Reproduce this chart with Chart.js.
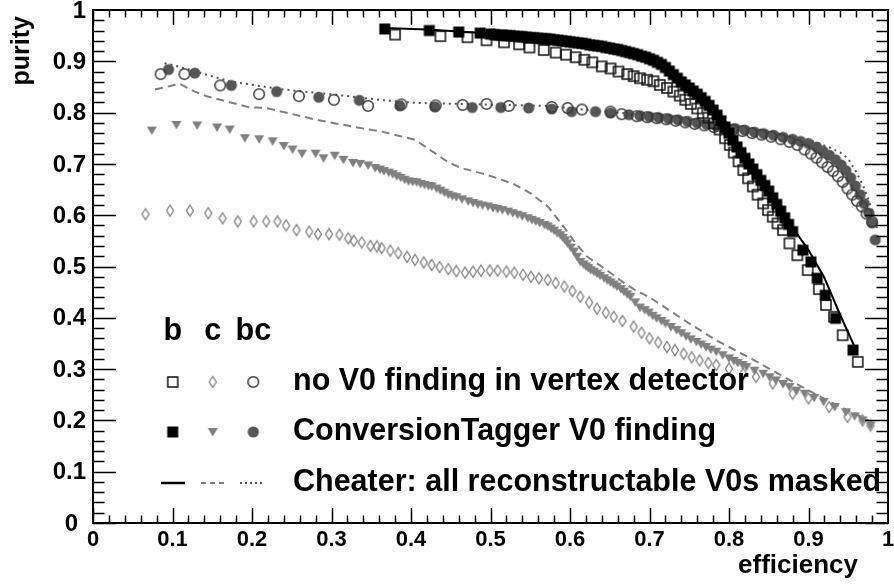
<!DOCTYPE html>
<html>
<head>
<meta charset="utf-8">
<script src="https://cdn.jsdelivr.net/npm/chart.js@4.4.1/dist/chart.umd.min.js"></script>
<style>
  html, body { margin: 0; padding: 0; background: #fff; }
  canvas { display: block; }
</style>
</head>
<body>
<canvas id="chart" width="894" height="584"></canvas>
<script>
'use strict';

// axis ticks
const tickValues = [0, 0.1, 0.2, 0.3, 0.4, 0.5, 0.6, 0.7, 0.8, 0.9, 1];
const xTickLabels = ['0', '0.1', '0.2', '0.3', '0.4', '0.5', '0.6', '0.7', '0.8', '0.9', '1'];
const yTickLabels = ['0', '0.1', '0.2', '0.3', '0.4', '0.5', '0.6', '0.7', '0.8', '0.9', '1'];
const minorPerMajor = 5;

const xTitle = 'efficiency';
const yTitle = 'purity';
const legendHeader = ['b', 'c', 'bc'];
const legendRows = ['no V0 finding in vertex detector', 'ConversionTagger V0 finding', 'Cheater: all reconstructable V0s masked'];

// [efficiency, purity]
const bNoV0 = [[0.380,0.952],[0.437,0.949],[0.471,0.947],[0.495,0.941],[0.517,0.937],[0.536,0.933],[0.549,0.927],[0.567,0.922],[0.582,0.917],[0.595,0.913],[0.607,0.908],[0.618,0.903],[0.628,0.898],[0.640,0.890],[0.651,0.886],[0.661,0.880],[0.672,0.875],[0.680,0.871],[0.688,0.867],[0.697,0.864],[0.705,0.861],[0.713,0.854],[0.722,0.848],[0.730,0.841],[0.738,0.833],[0.745,0.825],[0.752,0.817],[0.760,0.808],[0.767,0.799],[0.774,0.790],[0.781,0.779],[0.788,0.767],[0.795,0.750],[0.801,0.737],[0.806,0.722],[0.812,0.705],[0.818,0.688],[0.824,0.672],[0.830,0.656],[0.836,0.640],[0.843,0.623],[0.849,0.610],[0.855,0.597],[0.861,0.584],[0.868,0.571],[0.876,0.545],[0.886,0.522],[0.899,0.493],[0.913,0.456],[0.922,0.425],[0.932,0.402],[0.943,0.366],[0.962,0.314]];
const bTagger = [[0.367,0.963],[0.423,0.960],[0.460,0.957],[0.487,0.955],[0.500,0.953],[0.505,0.952],[0.510,0.951],[0.515,0.951],[0.520,0.950],[0.525,0.950],[0.530,0.949],[0.535,0.948],[0.540,0.948],[0.545,0.947],[0.550,0.946],[0.555,0.946],[0.560,0.945],[0.565,0.944],[0.570,0.944],[0.575,0.943],[0.580,0.942],[0.585,0.941],[0.590,0.940],[0.595,0.939],[0.600,0.938],[0.605,0.937],[0.610,0.936],[0.615,0.935],[0.620,0.934],[0.625,0.932],[0.630,0.931],[0.635,0.930],[0.640,0.929],[0.645,0.927],[0.650,0.926],[0.655,0.924],[0.660,0.923],[0.665,0.921],[0.670,0.919],[0.675,0.917],[0.680,0.915],[0.685,0.913],[0.690,0.910],[0.695,0.908],[0.700,0.905],[0.705,0.902],[0.710,0.898],[0.715,0.894],[0.720,0.888],[0.725,0.881],[0.730,0.874],[0.735,0.867],[0.740,0.860],[0.745,0.854],[0.750,0.848],[0.755,0.842],[0.760,0.836],[0.765,0.829],[0.770,0.822],[0.775,0.814],[0.780,0.805],[0.785,0.795],[0.790,0.784],[0.795,0.772],[0.800,0.760],[0.805,0.746],[0.810,0.733],[0.815,0.722],[0.820,0.711],[0.825,0.700],[0.830,0.690],[0.835,0.679],[0.840,0.668],[0.845,0.658],[0.850,0.647],[0.855,0.634],[0.860,0.621],[0.865,0.608],[0.870,0.595],[0.875,0.582],[0.880,0.568],[0.893,0.532],[0.903,0.509],[0.911,0.477],[0.921,0.444],[0.934,0.399],[0.956,0.337]];
const bCheater = [[0.367,0.965],[0.420,0.962],[0.460,0.958],[0.500,0.954],[0.550,0.948],[0.600,0.940],[0.650,0.928],[0.700,0.907],[0.720,0.892],[0.740,0.866],[0.760,0.840],[0.780,0.808],[0.800,0.764],[0.820,0.717],[0.840,0.674],[0.860,0.627],[0.880,0.576],[0.900,0.532],[0.920,0.478],[0.940,0.405],[0.957,0.347]];

const cNoV0 = [[0.066,0.602],[0.097,0.609],[0.122,0.609],[0.145,0.604],[0.163,0.594],[0.182,0.588],[0.202,0.588],[0.218,0.588],[0.232,0.588],[0.243,0.580],[0.256,0.571],[0.272,0.568],[0.283,0.563],[0.297,0.563],[0.310,0.562],[0.321,0.555],[0.328,0.550],[0.338,0.547],[0.349,0.540],[0.357,0.539],[0.363,0.536],[0.374,0.531],[0.384,0.526],[0.395,0.519],[0.405,0.513],[0.416,0.508],[0.426,0.503],[0.436,0.499],[0.447,0.495],[0.457,0.491],[0.468,0.488],[0.478,0.490],[0.488,0.492],[0.499,0.492],[0.509,0.492],[0.520,0.490],[0.530,0.488],[0.541,0.484],[0.551,0.480],[0.561,0.477],[0.572,0.474],[0.582,0.468],[0.593,0.461],[0.603,0.452],[0.613,0.441],[0.624,0.430],[0.634,0.418],[0.645,0.410],[0.655,0.402],[0.666,0.394],[0.680,0.383],[0.690,0.371],[0.700,0.360],[0.711,0.352],[0.722,0.343],[0.732,0.337],[0.743,0.330],[0.753,0.323],[0.763,0.317],[0.774,0.312],[0.784,0.308],[0.800,0.301],[0.818,0.291],[0.834,0.285],[0.855,0.272],[0.880,0.252],[0.900,0.243],[0.926,0.226],[0.949,0.207],[0.968,0.200],[0.978,0.190]];
const cTagger = [[0.074,0.765],[0.105,0.776],[0.131,0.775],[0.156,0.771],[0.172,0.767],[0.191,0.750],[0.209,0.748],[0.226,0.744],[0.240,0.735],[0.251,0.728],[0.263,0.720],[0.280,0.720],[0.290,0.711],[0.304,0.716],[0.315,0.708],[0.327,0.702],[0.336,0.700],[0.346,0.697],[0.355,0.692],[0.361,0.689],[0.366,0.686],[0.372,0.683],[0.377,0.680],[0.382,0.676],[0.387,0.673],[0.392,0.669],[0.397,0.666],[0.402,0.665],[0.407,0.664],[0.412,0.661],[0.417,0.659],[0.422,0.657],[0.426,0.656],[0.432,0.652],[0.437,0.648],[0.442,0.644],[0.447,0.640],[0.452,0.637],[0.457,0.635],[0.464,0.631],[0.472,0.627],[0.478,0.624],[0.484,0.621],[0.490,0.619],[0.497,0.617],[0.503,0.614],[0.509,0.612],[0.515,0.610],[0.522,0.607],[0.528,0.604],[0.534,0.601],[0.540,0.598],[0.547,0.594],[0.552,0.591],[0.557,0.588],[0.562,0.585],[0.568,0.581],[0.572,0.578],[0.576,0.574],[0.580,0.570],[0.584,0.565],[0.588,0.561],[0.591,0.556],[0.594,0.551],[0.597,0.545],[0.601,0.537],[0.605,0.529],[0.609,0.519],[0.613,0.509],[0.617,0.504],[0.620,0.500],[0.623,0.497],[0.626,0.493],[0.630,0.490],[0.634,0.486],[0.638,0.482],[0.643,0.477],[0.647,0.473],[0.651,0.469],[0.655,0.465],[0.659,0.461],[0.664,0.456],[0.668,0.451],[0.672,0.446],[0.676,0.441],[0.682,0.430],[0.688,0.420],[0.694,0.415],[0.699,0.410],[0.704,0.404],[0.709,0.399],[0.715,0.394],[0.720,0.389],[0.727,0.382],[0.734,0.376],[0.740,0.370],[0.746,0.364],[0.752,0.358],[0.759,0.353],[0.765,0.348],[0.771,0.343],[0.777,0.338],[0.784,0.334],[0.792,0.327],[0.800,0.321],[0.806,0.316],[0.811,0.312],[0.817,0.308],[0.822,0.304],[0.832,0.297],[0.843,0.291],[0.851,0.284],[0.859,0.278],[0.868,0.271],[0.876,0.265],[0.885,0.258],[0.895,0.252],[0.907,0.244],[0.919,0.236],[0.933,0.226],[0.947,0.216],[0.958,0.208],[0.968,0.200],[0.978,0.190]];
const cCheater = [[0.078,0.845],[0.109,0.856],[0.128,0.841],[0.143,0.832],[0.197,0.810],[0.218,0.809],[0.284,0.785],[0.347,0.767],[0.363,0.763],[0.405,0.747],[0.430,0.721],[0.447,0.703],[0.463,0.692],[0.488,0.682],[0.509,0.672],[0.530,0.660],[0.550,0.643],[0.572,0.617],[0.588,0.586],[0.605,0.550],[0.621,0.520],[0.647,0.492],[0.668,0.468],[0.680,0.456],[0.700,0.440],[0.743,0.396],[0.784,0.356],[0.826,0.322],[0.847,0.304],[0.876,0.279],[0.909,0.251],[0.943,0.224],[0.976,0.200]];

const bcNoV0 = [[0.085,0.875],[0.115,0.875],[0.160,0.853],[0.209,0.836],[0.259,0.832],[0.303,0.825],[0.346,0.813],[0.388,0.816],[0.431,0.814],[0.465,0.815],[0.495,0.817],[0.523,0.813],[0.577,0.811],[0.597,0.809],[0.615,0.806],[0.651,0.802],[0.665,0.797],[0.684,0.793],[0.697,0.791],[0.709,0.789],[0.721,0.787],[0.733,0.784],[0.745,0.781],[0.757,0.778],[0.769,0.775],[0.781,0.772],[0.793,0.770],[0.805,0.767],[0.817,0.764],[0.829,0.760],[0.841,0.757],[0.853,0.753],[0.865,0.748],[0.876,0.743],[0.886,0.737],[0.895,0.728],[0.903,0.720],[0.910,0.712],[0.917,0.703],[0.924,0.694],[0.931,0.686],[0.937,0.676],[0.943,0.665],[0.949,0.652],[0.955,0.640],[0.961,0.628],[0.967,0.617],[0.973,0.603],[0.980,0.587]];
const bcTagger = [[0.095,0.884],[0.128,0.877],[0.174,0.853],[0.231,0.841],[0.284,0.830],[0.335,0.824],[0.386,0.813],[0.430,0.811],[0.477,0.810],[0.513,0.810],[0.548,0.809],[0.577,0.807],[0.602,0.802],[0.632,0.802],[0.651,0.799],[0.674,0.796],[0.688,0.794],[0.700,0.792],[0.712,0.790],[0.724,0.788],[0.736,0.786],[0.748,0.783],[0.760,0.780],[0.772,0.777],[0.784,0.774],[0.796,0.772],[0.808,0.769],[0.820,0.766],[0.832,0.762],[0.844,0.759],[0.856,0.756],[0.868,0.752],[0.880,0.748],[0.890,0.744],[0.900,0.740],[0.910,0.733],[0.918,0.725],[0.926,0.717],[0.934,0.708],[0.941,0.698],[0.947,0.687],[0.953,0.673],[0.959,0.657],[0.965,0.640],[0.970,0.623],[0.976,0.604],[0.980,0.585],[0.984,0.552]];
const bcCheater = [[0.090,0.896],[0.100,0.893],[0.172,0.861],[0.234,0.846],[0.322,0.832],[0.359,0.825],[0.405,0.819],[0.572,0.813],[0.650,0.801],[0.700,0.795],[0.750,0.786],[0.800,0.776],[0.850,0.763],[0.900,0.747],[0.925,0.733],[0.940,0.722],[0.950,0.710],[0.960,0.684],[0.968,0.660],[0.975,0.632],[0.982,0.600],[0.986,0.575]];

const black = '#000000';
const grey = '#808080';
const dark = '#555555';
const font = '"Liberation Sans", Arial, Helvetica, sans-serif';

function marker(kind, color) {
  const c = document.createElement('canvas');
  c.width = 16; c.height = 16;
  const g = c.getContext('2d');
  const m = 8;
  g.strokeStyle = color;
  g.fillStyle = color;
  g.lineWidth = 1.5;
  g.beginPath();
  if (kind === 'openSquare') {
    g.strokeRect(m - 5, m - 5, 10, 10);
  } else if (kind === 'square') {
    g.fillRect(m - 5.5, m - 5.5, 11, 11);
  } else if (kind === 'diamond') {
    g.lineWidth = 1.3;
    g.moveTo(m, m - 5.5); g.lineTo(m + 3.5, m); g.lineTo(m, m + 5.5); g.lineTo(m - 3.5, m);
    g.closePath(); g.stroke();
  } else if (kind === 'triangle') {
    g.moveTo(m - 5, m - 4); g.lineTo(m + 5, m - 4); g.lineTo(m, m + 4.5);
    g.closePath(); g.fill();
  } else if (kind === 'openCircle') {
    g.arc(m, m, 5.3, 0, Math.PI * 2); g.stroke();
  } else if (kind === 'circle') {
    g.arc(m, m, 5.6, 0, Math.PI * 2); g.fill();
  }
  return c;
}

const mk = {
  bNoV0: marker('openSquare', '#111111'),
  bTagger: marker('square', black),
  cNoV0: marker('diamond', grey),
  cTagger: marker('triangle', grey),
  bcNoV0: marker('openCircle', '#3a3a3a'),
  bcTagger: marker('circle', dark)
};

function pts(a) {
  return a.map(p => ({x: p[0], y: p[1]}));
}

function markerSet(data, style) {
  return {data: pts(data), pointStyle: style, pointRadius: 5, showLine: false};
}

function lineSet(data, color, dash, width) {
  return {data: pts(data), showLine: true, pointRadius: 0, borderColor: color,
    borderWidth: width, borderDash: dash, tension: 0, fill: false};
}

const rootStyle = {
  id: 'rootStyle',
  afterDraw(chart) {
    const {ctx, chartArea: a, scales: {x, y}} = chart;
    ctx.save();
    // ticks, inward on all four sides
    ctx.strokeStyle = black;
    ctx.lineWidth = 1.5;
    ctx.beginPath();
    for (let i = 0; i < tickValues.length - 1; i++) {
      for (let k = 0; k < minorPerMajor; k++) {
        const v = tickValues[i] + (tickValues[i + 1] - tickValues[i]) * k / minorPerMajor;
        const major = k === 0;
        const px = Math.round(x.getPixelForValue(v)) + 0.5;
        const lx = major ? 15 : 7.5;
        ctx.moveTo(px, a.bottom); ctx.lineTo(px, a.bottom - lx);
        ctx.moveTo(px, a.top); ctx.lineTo(px, a.top + lx);
        const py = Math.round(y.getPixelForValue(v)) + 0.5;
        const ly = major ? 23 : 11.5;
        ctx.moveTo(a.left, py); ctx.lineTo(a.left + ly, py);
        ctx.moveTo(a.right, py); ctx.lineTo(a.right - ly, py);
      }
    }
    ctx.stroke();
    ctx.lineWidth = 2;
    ctx.strokeRect(a.left, a.top, a.right - a.left, a.bottom - a.top);

    // tick labels
    ctx.fillStyle = black;
    ctx.font = 'bold 22px ' + font;
    ctx.textAlign = 'center';
    ctx.textBaseline = 'middle';
    tickValues.forEach((v, i) => {
      ctx.fillText(xTickLabels[i], x.getPixelForValue(v), a.bottom + 17);
    });
    ctx.font = 'bold 24px ' + font;
    ctx.textAlign = 'right';
    tickValues.forEach((v, i) => {
      ctx.fillText(yTickLabels[i], a.left - (i === 0 ? 15 : 7), y.getPixelForValue(v) + 1);
    });

    // axis titles
    ctx.font = 'bold 26px ' + font;
    ctx.textAlign = 'right';
    ctx.fillText(xTitle, 858, 566);
    ctx.save();
    ctx.translate(22, 16);
    ctx.rotate(-Math.PI / 2);
    ctx.font = 'bold 25px ' + font;
    ctx.textAlign = 'right';
    ctx.fillText(yTitle, 0, 0);
    ctx.restore();

    // legend
    const cols = [172.7, 212.7, 253.3];
    const rowsY = [382, 432, 483];
    ctx.font = 'bold 30.5px ' + font;
    ctx.textAlign = 'center';
    legendHeader.forEach((t, i) => ctx.fillText(t, cols[i], 332));
    ctx.textAlign = 'left';
    legendRows.forEach((t, i) => ctx.fillText(t, 293, rowsY[i]));
    const row1 = [mk.bNoV0, mk.cNoV0, mk.bcNoV0];
    const row2 = [mk.bTagger, mk.cTagger, mk.bcTagger];
    row1.forEach((m, i) => ctx.drawImage(m, cols[i] - 8, rowsY[0] - 8));
    row2.forEach((m, i) => ctx.drawImage(m, cols[i] - 8, rowsY[1] - 8));
    const ly = rowsY[2];
    ctx.lineWidth = 2.5;
    ctx.strokeStyle = black;
    ctx.beginPath(); ctx.moveTo(161, ly); ctx.lineTo(185, ly); ctx.stroke();
    ctx.lineWidth = 2;
    ctx.strokeStyle = grey;
    ctx.setLineDash([5, 4]);
    ctx.beginPath(); ctx.moveTo(201, ly); ctx.lineTo(226, ly); ctx.stroke();
    ctx.strokeStyle = dark;
    ctx.setLineDash([2, 3]);
    ctx.beginPath(); ctx.moveTo(240, ly); ctx.lineTo(265, ly); ctx.stroke();
    ctx.restore();
  }
};

const ctx = document.getElementById('chart').getContext('2d');
new Chart(ctx, {
  type: 'scatter',
  data: {
    datasets: [
      markerSet(bTagger, mk.bTagger),
      lineSet(bCheater, black, [], 2),
      markerSet(bNoV0, mk.bNoV0),
      markerSet(bcNoV0, mk.bcNoV0),
      markerSet(bcTagger, mk.bcTagger),
      lineSet(cCheater, grey, [8, 5], 2),
      markerSet(cTagger, mk.cTagger),
      markerSet(cNoV0, mk.cNoV0),
      lineSet(bcCheater, dark, [2, 4], 2)
    ]
  },
  options: {
    responsive: false,
    animation: false,
    events: [],
    devicePixelRatio: 1,
    layout: {padding: {left: 93, right: 2, top: 10, bottom: 61}},
    scales: {
      x: {type: 'linear', min: 0, max: 1, display: false},
      y: {type: 'linear', min: 0, max: 1, display: false}
    },
    plugins: {legend: {display: false}, tooltip: {enabled: false}}
  },
  plugins: [rootStyle]
});
</script>
</body>
</html>
